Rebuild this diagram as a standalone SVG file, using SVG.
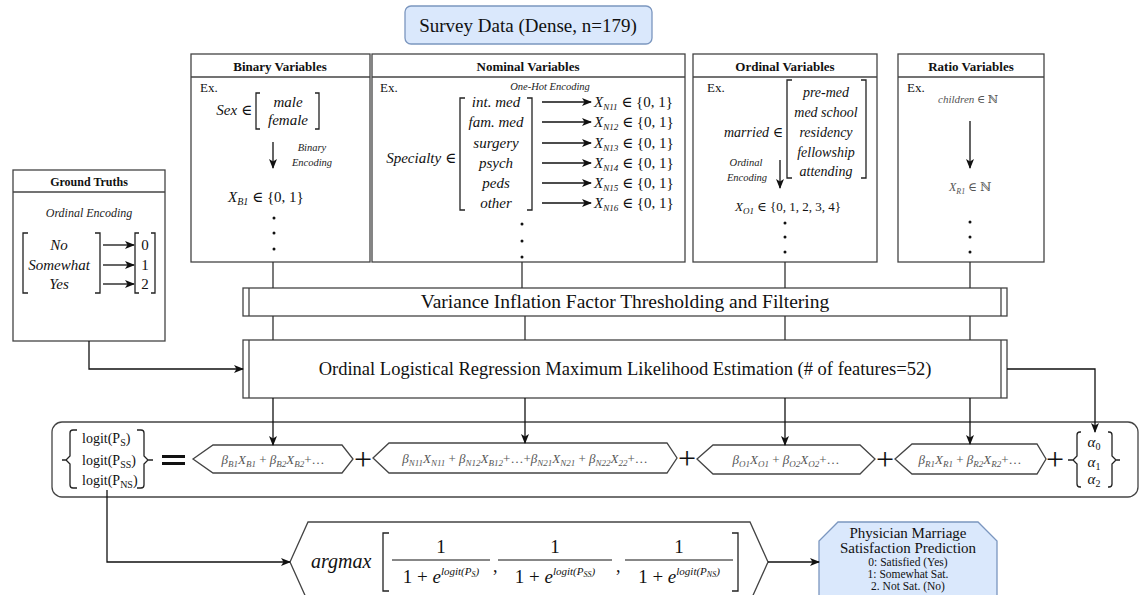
<svg xmlns="http://www.w3.org/2000/svg" width="1141" height="595" viewBox="0 0 1141 595">
<defs>
<marker id="ah" markerWidth="10" markerHeight="8" refX="9" refY="4" orient="auto" markerUnits="userSpaceOnUse">
<path d="M0,0 L10,4 L0,8 L2.5,4 Z" fill="#111"/>
</marker>
<style>
.box{fill:#fff;stroke:#444;stroke-width:1.3}
.blue{fill:#dae8fc;stroke:#7b96bf;stroke-width:1.3}
.hdr{font-family:"Liberation Serif","DejaVu Serif",serif;font-weight:bold;font-size:13px;text-anchor:middle;fill:#111}
.t{font-family:"Liberation Serif","DejaVu Serif",serif;fill:#111}
.m{font-family:"Liberation Serif","DejaVu Serif",serif;font-style:italic;font-size:15px;fill:#111}
.mc{font-family:"Liberation Serif","DejaVu Serif",serif;font-style:italic;font-size:15px;fill:#111;text-anchor:middle}
.lbl{font-family:"Liberation Serif","DejaVu Serif",serif;font-style:italic;font-size:10.5px;fill:#222;text-anchor:middle}
.br{fill:none;stroke:#222;stroke-width:1.3}
.conn{fill:none;stroke:#333;stroke-width:1.3}
.arr{fill:none;stroke:#111;stroke-width:1.3;marker-end:url(#ah)}
.hex{fill:#fff;stroke:#444;stroke-width:1.3}
.ht{font-family:"Liberation Serif","DejaVu Serif",serif;font-style:italic;font-size:13px;fill:#555;text-anchor:middle}
.plus{font-family:"Liberation Serif","DejaVu Serif",serif;font-size:32px;fill:#111;text-anchor:middle}
.dot{fill:#111}
</style>
</defs>

<g id="survey">
<rect class="blue" x="405" y="6" width="247" height="38" rx="6"/>
<text class="t" x="528" y="32" font-size="19" text-anchor="middle">Survey Data (Dense, n=179)</text>
</g>

<g id="binary">
<rect class="box" x="191" y="54" width="179" height="208"/>
<line class="box" x1="191" y1="77" x2="370" y2="77"/>
<text class="hdr" x="280" y="71">Binary Variables</text>
<text class="t" x="200" y="92" font-size="13">Ex.</text>
<text class="m" x="252" y="115" text-anchor="end">Sex <tspan font-style="normal">∈</tspan></text>
<path class="br" d="M260,93 H256 V129 H260 M315,93 H319 V129 H315"/>
<text class="mc" x="288" y="107">male</text>
<text class="mc" x="288" y="125">female</text>
<line class="arr" x1="273" y1="142" x2="273" y2="168"/>
<text class="lbl" x="312" y="151">Binary</text>
<text class="lbl" x="312" y="166">Encoding</text>
<text class="m" x="228" y="202">X<tspan dy="3" font-size="10">B1</tspan><tspan dy="-3" font-style="normal"> ∈ {0, 1}</tspan></text>
<circle class="dot" cx="274" cy="218" r="1.5"/>
<circle class="dot" cx="274" cy="233" r="1.5"/>
<circle class="dot" cx="274" cy="249" r="1.5"/>
</g>

<g id="nominal">
<rect class="box" x="372" y="54" width="313" height="208"/>
<line class="box" x1="372" y1="77" x2="685" y2="77"/>
<text class="hdr" x="528" y="71">Nominal Variables</text>
<text class="t" x="380" y="92" font-size="13">Ex.</text>
<text class="lbl" x="550" y="90">One-Hot Encoding</text>
<text class="m" x="456" y="163" text-anchor="end">Specialty <tspan font-style="normal">∈</tspan></text>
<path class="br" d="M465,98 H460 V210 H465 M527,98 H532 V210 H527"/>
<text class="mc" x="496" y="107">int. med</text>
<text class="mc" x="496" y="127">fam. med</text>
<text class="mc" x="496" y="148">surgery</text>
<text class="mc" x="496" y="168">psych</text>
<text class="mc" x="496" y="188">peds</text>
<text class="mc" x="496" y="208">other</text>
<line class="arr" x1="542" y1="102" x2="591" y2="102"/>
<line class="arr" x1="542" y1="122" x2="591" y2="122"/>
<line class="arr" x1="542" y1="143" x2="591" y2="143"/>
<line class="arr" x1="542" y1="163" x2="591" y2="163"/>
<line class="arr" x1="542" y1="183" x2="591" y2="183"/>
<line class="arr" x1="542" y1="203" x2="591" y2="203"/>
<text class="m" x="594" y="107">X<tspan dy="3" font-size="9">N11</tspan><tspan dy="-3" font-style="normal"> ∈ {0, 1}</tspan></text>
<text class="m" x="594" y="127">X<tspan dy="3" font-size="9">N12</tspan><tspan dy="-3" font-style="normal"> ∈ {0, 1}</tspan></text>
<text class="m" x="594" y="148">X<tspan dy="3" font-size="9">N13</tspan><tspan dy="-3" font-style="normal"> ∈ {0, 1}</tspan></text>
<text class="m" x="594" y="168">X<tspan dy="3" font-size="9">N14</tspan><tspan dy="-3" font-style="normal"> ∈ {0, 1}</tspan></text>
<text class="m" x="594" y="188">X<tspan dy="3" font-size="9">N15</tspan><tspan dy="-3" font-style="normal"> ∈ {0, 1}</tspan></text>
<text class="m" x="594" y="208">X<tspan dy="3" font-size="9">N16</tspan><tspan dy="-3" font-style="normal"> ∈ {0, 1}</tspan></text>
<circle class="dot" cx="522" cy="224" r="1.5"/>
<circle class="dot" cx="522" cy="241" r="1.5"/>
<circle class="dot" cx="522" cy="257" r="1.5"/>
</g>

<g id="ordinal">
<rect class="box" x="693" y="54" width="184" height="208"/>
<line class="box" x1="693" y1="77" x2="877" y2="77"/>
<text class="hdr" x="785" y="71">Ordinal Variables</text>
<text class="t" x="707" y="92" font-size="13">Ex.</text>
<path class="br" d="M792,80 H787 V178 H792 M861,80 H866 V178 H861"/>
<text class="mc" x="826" y="97" style="font-size:14px">pre-med</text>
<text class="mc" x="826" y="117" style="font-size:14px">med school</text>
<text class="mc" x="826" y="137" style="font-size:14px">residency</text>
<text class="mc" x="826" y="157" style="font-size:14px">fellowship</text>
<text class="mc" x="826" y="176" style="font-size:14px">attending</text>
<text class="m" x="783" y="137" text-anchor="end" style="font-size:14px">married <tspan font-style="normal">∈</tspan></text>
<line class="arr" x1="780" y1="160" x2="780" y2="188"/>
<text class="lbl" x="746" y="166">Ordinal</text>
<text class="lbl" x="747" y="181">Encoding</text>
<text class="mc" x="788" y="211" style="font-size:13px">X<tspan dy="3" font-size="9">O1</tspan><tspan dy="-3" font-style="normal"> ∈ {0, 1, 2, 3, 4}</tspan></text>
<circle class="dot" cx="785" cy="223" r="1.5"/>
<circle class="dot" cx="785" cy="237" r="1.5"/>
<circle class="dot" cx="785" cy="252" r="1.5"/>
</g>

<g id="ratio">
<rect class="box" x="898" y="54" width="146" height="208"/>
<line class="box" x1="898" y1="77" x2="1044" y2="77"/>
<text class="hdr" x="971" y="71">Ratio Variables</text>
<text class="t" x="907" y="92" font-size="13">Ex.</text>
<text class="mc" x="968" y="103" style="font-size:11px;fill:#555">children <tspan font-style="normal">∈ ℕ</tspan></text>
<line class="arr" x1="970" y1="121" x2="970" y2="168"/>
<text class="mc" x="970" y="191" style="font-size:12px;fill:#555">X<tspan dy="3" font-size="8">R1</tspan><tspan dy="-3" font-style="normal"> ∈ ℕ</tspan></text>
<circle class="dot" cx="970" cy="222" r="1.5"/>
<circle class="dot" cx="970" cy="237" r="1.5"/>
<circle class="dot" cx="970" cy="252" r="1.5"/>
</g>

<g id="ground-truths">
<rect class="box" x="13" y="170" width="152" height="171"/>
<line class="box" x1="13" y1="192" x2="165" y2="192"/>
<text class="hdr" x="89" y="186" style="font-size:12px">Ground Truths</text>
<text class="lbl" x="89" y="217" style="font-size:12px">Ordinal Encoding</text>
<path class="br" d="M28,233 H23 V293 H28 M95,233 H100 V293 H95"/>
<text class="mc" x="59" y="250">No</text>
<text class="mc" x="59" y="270">Somewhat</text>
<text class="mc" x="59" y="289">Yes</text>
<line class="arr" x1="103" y1="245" x2="134" y2="245"/>
<line class="arr" x1="103" y1="265" x2="134" y2="265"/>
<line class="arr" x1="103" y1="284" x2="134" y2="284"/>
<path class="br" d="M139,233 H135 V293 H139 M151,233 H155 V293 H151"/>
<text class="t" x="145" y="250" font-size="15" text-anchor="middle">0</text>
<text class="t" x="145" y="270" font-size="15" text-anchor="middle">1</text>
<text class="t" x="145" y="289" font-size="15" text-anchor="middle">2</text>
</g>

<g id="vif">
<rect class="box" x="243" y="288" width="764" height="28"/>
<line class="box" x1="249" y1="288" x2="249" y2="316"/>
<line class="box" x1="1001" y1="288" x2="1001" y2="316"/>
<text class="t" x="625" y="308" font-size="19.5" text-anchor="middle">Variance Inflation Factor Thresholding and Filtering</text>
</g>

<g id="olr">
<rect class="box" x="243" y="340" width="764" height="58"/>
<line class="box" x1="249" y1="340" x2="249" y2="398"/>
<line class="box" x1="1001" y1="340" x2="1001" y2="398"/>
<text class="t" x="625" y="375" font-size="18.5" text-anchor="middle">Ordinal Logistical Regression Maximum Likelihood Estimation (# of features=52)</text>
</g>

<g id="equation">
<rect class="box" x="52" y="422" width="1086" height="75" rx="10"/>
<path class="br" d="M77,430 H73 Q70,430 70,433 V456 L66,460 L70,464 V485 Q70,488 73,488 H77 M62,460 H66"/>
<path class="br" d="M137,430 H141 Q144,430 144,433 V456 L148,460 L144,464 V485 Q144,488 141,488 H137 M148,460 H153"/>
<text class="t" x="82" y="443" font-size="14">logit(P<tspan dy="3" font-size="10">S</tspan><tspan dy="-3">)</tspan></text>
<text class="t" x="82" y="465" font-size="14">logit(P<tspan dy="3" font-size="10">SS</tspan><tspan dy="-3">)</tspan></text>
<text class="t" x="82" y="485" font-size="14">logit(P<tspan dy="3" font-size="10">NS</tspan><tspan dy="-3">)</tspan></text>
<line x1="162" y1="456.5" x2="185" y2="456.5" stroke="#111" stroke-width="3"/>
<line x1="162" y1="463.5" x2="185" y2="463.5" stroke="#111" stroke-width="3"/>
</g>

<g id="term-binary">
<polygon class="hex" points="193,459 213,445 342,445 353,459 342,473 213,473"/>
<text class="ht" x="273" y="464">β<tspan dy="3" font-size="9">B1</tspan><tspan dy="-3">X</tspan><tspan dy="3" font-size="9">B1</tspan><tspan dy="-3" font-style="normal"> + </tspan>β<tspan dy="3" font-size="9">B2</tspan><tspan dy="-3">X</tspan><tspan dy="3" font-size="9">B2</tspan><tspan dy="-3" font-style="normal">+…</tspan></text>
</g>
<text class="plus" x="363" y="470">+</text>

<g id="term-nominal">
<polygon class="hex" points="373,458 389,443 667,443 677,458 667,473 389,473"/>
<text class="ht" x="525" y="463">β<tspan dy="3" font-size="9">N11</tspan><tspan dy="-3">X</tspan><tspan dy="3" font-size="9">N11</tspan><tspan dy="-3" font-style="normal"> + </tspan>β<tspan dy="3" font-size="9">N12</tspan><tspan dy="-3">X</tspan><tspan dy="3" font-size="9">B12</tspan><tspan dy="-3" font-style="normal">+…+</tspan>β<tspan dy="3" font-size="9">N21</tspan><tspan dy="-3">X</tspan><tspan dy="3" font-size="9">N21</tspan><tspan dy="-3" font-style="normal"> + </tspan>β<tspan dy="3" font-size="9">N22</tspan><tspan dy="-3">X</tspan><tspan dy="3" font-size="9">22</tspan><tspan dy="-3" font-style="normal">+…</tspan></text>
</g>
<text class="plus" x="687" y="469">+</text>

<g id="term-ordinal">
<polygon class="hex" points="697,459 713,445 860,445 875,459 860,474 713,474"/>
<text class="ht" x="786" y="464">β<tspan dy="3" font-size="9">O1</tspan><tspan dy="-3">X</tspan><tspan dy="3" font-size="9">O1</tspan><tspan dy="-3" font-style="normal"> + </tspan>β<tspan dy="3" font-size="9">O2</tspan><tspan dy="-3">X</tspan><tspan dy="3" font-size="9">O2</tspan><tspan dy="-3" font-style="normal">+…</tspan></text>
</g>
<text class="plus" x="885" y="470">+</text>

<g id="term-ratio">
<polygon class="hex" points="895,459 912,444 1037,444 1046,459 1037,474 912,474"/>
<text class="ht" x="970" y="464">β<tspan dy="3" font-size="9">R1</tspan><tspan dy="-3">X</tspan><tspan dy="3" font-size="9">R1</tspan><tspan dy="-3" font-style="normal"> + </tspan>β<tspan dy="3" font-size="9">R2</tspan><tspan dy="-3">X</tspan><tspan dy="3" font-size="9">R2</tspan><tspan dy="-3" font-style="normal">+…</tspan></text>
</g>
<text class="plus" x="1055" y="470">+</text>

<g id="alphas">
<path class="br" d="M1081,432 H1080 Q1077,432 1077,435 V456 L1073,460 L1077,464 V484 Q1077,487 1080,487 H1081 M1068,460 H1073"/>
<path class="br" d="M1108,432 H1109 Q1112,432 1112,435 V456 L1116,460 L1112,464 V484 Q1112,487 1109,487 H1108 M1116,460 H1120"/>
<text class="mc" x="1094" y="447">α<tspan dy="3" font-size="10" font-style="normal">0</tspan></text>
<text class="mc" x="1094" y="467">α<tspan dy="3" font-size="10" font-style="normal">1</tspan></text>
<text class="mc" x="1094" y="484">α<tspan dy="3" font-size="10" font-style="normal">2</tspan></text>
</g>

<g id="argmax">
<polygon class="hex" points="290,562 308,522 750,522 768,562 750,602 308,602"/>
<text class="m" x="311" y="568" style="font-size:20px">argmax</text>
<path class="br" d="M389,533 H383 V591 H389 M732,533 H738 V591 H732" stroke-width="1.5"/>
<text class="t" x="441" y="553" font-size="19" text-anchor="middle">1</text>
<line x1="392" y1="560" x2="490" y2="560" stroke="#111" stroke-width="1"/>
<text class="t" x="441" y="583" font-size="19" text-anchor="middle">1 + <tspan font-style="italic">e</tspan><tspan dy="-8" font-size="11" font-style="italic">logit(P<tspan dy="2" font-size="8">S</tspan><tspan dy="-2">)</tspan></tspan></text>
<text class="t" x="493" y="572" font-size="18">,</text>
<text class="t" x="555" y="553" font-size="19" text-anchor="middle">1</text>
<line x1="498" y1="560" x2="612" y2="560" stroke="#111" stroke-width="1"/>
<text class="t" x="555" y="583" font-size="19" text-anchor="middle">1 + <tspan font-style="italic">e</tspan><tspan dy="-8" font-size="11" font-style="italic">logit(P<tspan dy="2" font-size="8">SS</tspan><tspan dy="-2">)</tspan></tspan></text>
<text class="t" x="616" y="572" font-size="18">,</text>
<text class="t" x="679" y="553" font-size="19" text-anchor="middle">1</text>
<line x1="625" y1="560" x2="733" y2="560" stroke="#111" stroke-width="1"/>
<text class="t" x="679" y="583" font-size="19" text-anchor="middle">1 + <tspan font-style="italic">e</tspan><tspan dy="-8" font-size="11" font-style="italic">logit(P<tspan dy="2" font-size="8">NS</tspan><tspan dy="-2">)</tspan></tspan></text>
</g>

<g id="prediction">
<polygon class="blue" points="838,522 978,522 997,541 997,600 978,619 838,619 819,600 819,541"/>
<text class="t" x="908" y="538" font-size="15" text-anchor="middle">Physician Marriage</text>
<text class="t" x="908" y="553" font-size="15" text-anchor="middle">Satisfaction Prediction</text>
<text class="t" x="908" y="566" font-size="11.5" text-anchor="middle">0: Satisfied (Yes)</text>
<text class="t" x="908" y="578" font-size="11.5" text-anchor="middle">1: Somewhat Sat.</text>
<text class="t" x="908" y="590" font-size="11.5" text-anchor="middle">2. Not Sat. (No)</text>
</g>

<g id="connectors">
<path class="conn" d="M273,262 V288 M273,316 V340"/>
<path class="conn" d="M522,262 V288 M525,316 V340"/>
<path class="conn" d="M785,262 V288 M785,316 V340"/>
<path class="conn" d="M970,262 V288 M970,316 V340"/>
<line class="arr" x1="273" y1="398" x2="273" y2="445"/>
<line class="arr" x1="525" y1="398" x2="525" y2="443"/>
<line class="arr" x1="785" y1="398" x2="785" y2="445"/>
<line class="arr" x1="970" y1="398" x2="970" y2="444"/>
<path class="arr" d="M1007,369 H1095 V432"/>
<path class="arr" d="M89,341 V369 H243"/>
<path class="arr" d="M107,490 V562 H290"/>
<line class="arr" x1="768" y1="562" x2="819" y2="562"/>
</g>
</svg>
